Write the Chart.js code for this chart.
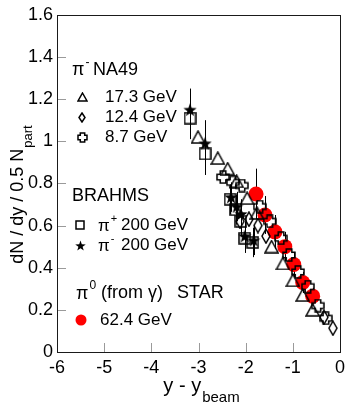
<!DOCTYPE html>
<html>
<head>
<meta charset="utf-8">
<script src="https://cdn.jsdelivr.net/npm/chart.js@4/dist/chart.umd.min.js"></script>
<style>
html,body{margin:0;padding:0;background:#fff;}
#wrap{width:354px;height:409px;position:relative;}
</style>
</head>
<body>
<div id="wrap"><canvas id="c" width="354" height="409"></canvas></div>
<script>
// ---------- data ----------
const xTicks = [-6, -5, -4, -3, -2, -1, 0];
const yTicks = [0, 0.2, 0.4, 0.6, 0.8, 1, 1.2, 1.4, 1.6];

// NA49 pi- 17.3 GeV (open triangles)
const na49_173_x = [-3.01, -2.59, -2.38, -2.19, -1.97, -1.76, -1.45, -1.21, -1.00, -0.79, -0.58];
const na49_173_y = [1.02, 0.92, 0.87, 0.81, 0.73, 0.66, 0.50, 0.42, 0.34, 0.27, 0.20];
// NA49 pi- 12.4 GeV (open diamonds)
const na49_124_x = [-2.12, -1.93, -1.74, -1.57, -0.34, -0.15];
const na49_124_y = [0.62, 0.63, 0.60, 0.55, 0.165, 0.113];
// NA49 pi- 8.7 GeV (open crosses)
const na49_87_x = [-2.48, -2.27, -2.08, -1.70, -1.49, -1.25, -1.08, -0.89, -0.68, -0.47, -0.30];
const na49_87_y = [0.83, 0.805, 0.79, 0.69, 0.62, 0.54, 0.46, 0.38, 0.31, 0.22, 0.16];
// BRAHMS pi+ 200 GeV (open squares)
const brahmsPlusX = [-3.18, -2.86, -2.33, -2.21, -2.10, -2.02, -1.85];
const brahmsPlusY = [1.11, 0.94, 0.725, 0.675, 0.62, 0.54, 0.52];
const brahmsPlusErr = [0.10, 0.10, 0.07, 0.07, 0.07, 0.07, 0.07];
// BRAHMS pi- 200 GeV (stars)
const brahmsMinusX = [-3.18, -2.86, -2.31, -2.19, -2.10, -2.02, -1.83];
const brahmsMinusY = [1.15, 0.99, 0.735, 0.69, 0.655, 0.55, 0.53];
const brahmsMinusErr = [0.10, 0.11, 0.07, 0.07, 0.07, 0.07, 0.07];
// STAR pi0 (from gamma) 62.4 GeV (red filled circles)
const starX = [-1.78, -1.59, -1.38, -1.17, -0.98, -0.79, -0.58];
const starY = [0.75, 0.65, 0.57, 0.50, 0.415, 0.33, 0.265];
const starErr = [0.12, 0.09, 0.08, 0.07, 0.06, 0.05, 0.04];

// ---------- marker images ----------
function mk(w, h, draw) {
  const c = document.createElement('canvas');
  c.width = w; c.height = h;
  const g = c.getContext('2d');
  g.strokeStyle = '#000'; g.fillStyle = '#000'; g.lineWidth = 1.5;
  draw(g, w, h);
  return c;
}
function triangle(s) {
  const h = Math.round(s * 0.9);
  return mk(s, h, (g, w, h) => {
    g.beginPath(); g.moveTo(w / 2, 1); g.lineTo(w - 1, h - 1); g.lineTo(1, h - 1); g.closePath(); g.stroke();
  });
}
function diamond(w, h) {
  return mk(w, h, (g, w, h) => {
    g.beginPath(); g.moveTo(w / 2, 1); g.lineTo(w - 1, h / 2); g.lineTo(w / 2, h - 1); g.lineTo(1, h / 2); g.closePath(); g.stroke();
  });
}
function openCross(s) {
  return mk(s, s, (g, w) => {
    const a = w * 0.2, c = w / 2, e = 1, m = w - 1;
    g.beginPath();
    g.moveTo(c - a, e); g.lineTo(c + a, e); g.lineTo(c + a, c - a); g.lineTo(m, c - a); g.lineTo(m, c + a);
    g.lineTo(c + a, c + a); g.lineTo(c + a, m); g.lineTo(c - a, m); g.lineTo(c - a, c + a); g.lineTo(e, c + a);
    g.lineTo(e, c - a); g.lineTo(c - a, c - a); g.closePath(); g.stroke();
  });
}
function openSquare(s) {
  return mk(s, s, (g, w) => { g.strokeRect(1, 1, w - 2, w - 2); });
}
function star(s) {
  return mk(s, s, (g, w) => {
    const c = w / 2, R = w / 2, r = R * 0.4;
    g.beginPath();
    for (let i = 0; i < 10; i++) {
      const ang = -Math.PI / 2 + i * Math.PI / 5;
      const rr = i % 2 ? r : R;
      const px = c + rr * Math.cos(ang), py = c + 0.6 + rr * Math.sin(ang);
      i ? g.lineTo(px, py) : g.moveTo(px, py);
    }
    g.closePath(); g.fill();
  });
}
const mTri = triangle(15), mDia = diamond(10, 16), mCross = openCross(14), mSq = openSquare(13), mStar = star(14);
const lTri = triangle(11), lDia = diamond(8, 11), lCross = openCross(11), lSq = openSquare(10), lStar = star(11);

function pts(xs, ys) { return xs.map((x, i) => ({ x: x, y: ys[i] })); }

const FONT = '"Liberation Sans", Arial, Helvetica, sans-serif';

// ---------- custom drawing plugin ----------
const decor = {
  id: 'decor',
  beforeDatasetsDraw(chart) {
    const ctx = chart.ctx, xs = chart.scales.x, ys = chart.scales.y;
    ctx.save();
    ctx.strokeStyle = '#000'; ctx.lineWidth = 1;
    chart.data.datasets.forEach(ds => {
      if (!ds.errs) return;
      ds.data.forEach((p, i) => {
        const px = Math.round(xs.getPixelForValue(p.x)) + 0.5;
        ctx.beginPath();
        ctx.moveTo(px, ys.getPixelForValue(p.y - ds.errs[i]));
        ctx.lineTo(px, ys.getPixelForValue(p.y + ds.errs[i]));
        ctx.stroke();
      });
    });
    ctx.restore();
  },
  afterDraw(chart) {
    const ctx = chart.ctx, a = chart.chartArea, xs = chart.scales.x, ys = chart.scales.y;
    ctx.save();
    // inner tick marks
    ctx.strokeStyle = '#9a9a9a'; ctx.lineWidth = 1;
    yTicks.forEach(v => {
      const py = Math.round(ys.getPixelForValue(v)) + 0.5;
      ctx.beginPath(); ctx.moveTo(a.left, py); ctx.lineTo(a.left + 9, py); ctx.stroke();
    });
    xTicks.forEach(v => {
      const px = Math.round(xs.getPixelForValue(v)) + 0.5;
      ctx.beginPath(); ctx.moveTo(px, a.bottom); ctx.lineTo(px, a.bottom - 9); ctx.stroke();
    });
    // frame
    ctx.strokeStyle = '#1a1a1a'; ctx.lineWidth = 1;
    ctx.strokeRect(Math.round(a.left) + 0.5, Math.round(a.top) + 0.5, Math.round(a.right - a.left), Math.round(a.bottom - a.top));

    ctx.fillStyle = '#000';
    ctx.textBaseline = 'alphabetic';
    ctx.textAlign = 'left';
    // x title
    ctx.font = '20px ' + FONT;
    const xm = 'y - y';
    const wm = ctx.measureText(xm).width;
    ctx.font = '15px ' + FONT;
    const wsub = ctx.measureText('beam').width;
    let x0 = 201 - (wm + wsub) / 2;
    ctx.font = '20px ' + FONT; ctx.fillText(xm, x0, 392);
    ctx.font = '15px ' + FONT; ctx.fillText('beam', x0 + wm + 1, 402);
    // y title (rotated)
    ctx.save();
    ctx.translate(23, 195);
    ctx.rotate(-Math.PI / 2);
    ctx.font = '18px ' + FONT;
    const ym = 'dN / dy / 0.5 N';
    const ywm = ctx.measureText(ym).width;
    ctx.font = '13px ' + FONT;
    const yws = ctx.measureText('part').width;
    const y0 = -(ywm + yws) / 2;
    ctx.font = '18px ' + FONT; ctx.fillText(ym, y0, 0);
    ctx.font = '13px ' + FONT; ctx.fillText('part', y0 + ywm + 1, 9);
    ctx.restore();

    // legend
    ctx.textBaseline = 'middle';
    function txt(s, x, y, size) { ctx.font = size + 'px ' + FONT; ctx.fillText(s, x, y); return x + ctx.measureText(s).width; }
    function img(im, x, y) { ctx.drawImage(im, Math.round(x - im.width / 2), Math.round(y - im.height / 2)); }
    // NA49 header
    let e = txt('π', 72, 70, 18);
    txt('-', e + 1, 63, 12);
    txt('NA49', 93, 70, 18);
    img(lTri, 82, 97); txt('17.3 GeV', 105, 97, 17);
    img(lDia, 82, 117); txt('12.4 GeV', 105, 117, 17);
    img(lCross, 82, 137); txt('8.7 GeV', 105, 137, 17);
    // BRAHMS
    txt('BRAHMS', 72, 196, 18);
    img(lSq, 80, 225);
    e = txt('π', 98, 226, 17); txt('+', e + 1, 219, 11); txt('200 GeV', 121, 225, 17);
    img(lStar, 80, 245);
    e = txt('π', 98, 246, 17); txt('-', e + 1, 239, 11); txt('200 GeV', 121, 245, 17);
    // STAR
    e = txt('π', 76, 294, 18); txt('0', e + 1, 286, 12);
    txt('(from γ)', 101, 293, 18);
    txt('STAR', 177, 293, 18);
    ctx.fillStyle = '#ff0000';
    ctx.beginPath(); ctx.arc(81, 320, 5.5, 0, Math.PI * 2); ctx.fill();
    ctx.fillStyle = '#000';
    txt('62.4 GeV', 100, 320, 17);
    ctx.restore();
  }
};

new Chart(document.getElementById('c'), {
  type: 'scatter',
  data: {
    datasets: [
      { label: 'π- 17.3 GeV', data: pts(na49_173_x, na49_173_y), pointStyle: mTri, pointRadius: 7 },
      { label: 'π- 12.4 GeV', data: pts(na49_124_x, na49_124_y), pointStyle: mDia, pointRadius: 7 },
      { label: 'π- 8.7 GeV', data: pts(na49_87_x, na49_87_y), pointStyle: mCross, pointRadius: 7 },
      { label: 'π+ 200 GeV', data: pts(brahmsPlusX, brahmsPlusY), pointStyle: mSq, pointRadius: 6, errs: brahmsPlusErr },
      { label: 'π- 200 GeV', data: pts(brahmsMinusX, brahmsMinusY), pointStyle: mStar, pointRadius: 7, errs: brahmsMinusErr },
      { label: '62.4 GeV', data: pts(starX, starY), pointStyle: 'circle', pointRadius: 7.5, backgroundColor: '#ff0000', borderColor: '#ff0000', borderWidth: 0, errs: starErr }
    ]
  },
  options: {
    responsive: false,
    animation: false,
    events: [],
    layout: { padding: { left: 0, top: 12, right: 14, bottom: 0 } },
    plugins: { legend: { display: false }, tooltip: { enabled: false } },
    scales: {
      x: {
        type: 'linear', min: -6, max: 0,
        afterFit: s => { s.height = 57; },
        afterBuildTicks: s => { s.ticks = xTicks.map(v => ({ value: v })); },
        grid: { display: false, drawTicks: false },
        border: { display: false },
        ticks: { padding: 5, color: '#000', font: { size: 18, family: FONT }, callback: v => String(v) }
      },
      y: {
        type: 'linear', min: 0, max: 1.6,
        afterFit: s => { s.width = 57; },
        afterBuildTicks: s => { s.ticks = yTicks.map(v => ({ value: v })); },
        grid: { display: false, drawTicks: false },
        border: { display: false },
        ticks: { padding: 4, color: '#000', font: { size: 18, family: FONT }, callback: v => String(+(+v).toFixed(1)) }
      }
    }
  },
  plugins: [decor]
});
</script>
</body>
</html>
